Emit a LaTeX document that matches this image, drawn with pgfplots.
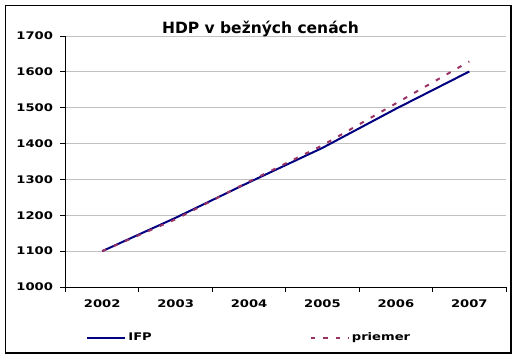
\documentclass[border=0pt]{standalone}
\usepackage{fontspec}
\setmainfont{DejaVu Sans}
\newfontfamily\wide{DejaVu Sans}[FakeStretch=1.25]
\usepackage{pgfplots}
\pgfplotsset{compat=1.18}
\definecolor{ifp}{RGB}{0,0,128}
\definecolor{prm}{RGB}{153,51,102}
\definecolor{grd}{RGB}{192,192,192}
\begin{document}
\begin{tikzpicture}[x=1pt,y=1pt]
\useasboundingbox (0,0) rectangle (521,359);
\fill[white] (0,0) rectangle (521,359);
\begin{axis}[
  at={(65.5pt,72pt)}, anchor=south west,
  scale only axis, width=440.5pt, height=251pt,
  xmin=0, xmax=6, ymin=1000, ymax=1700,
  ytick={1000,1100,...,1700},
  xtick={0,1,...,6},
  x tick label as interval,
  xticklabels={2002,2003,2004,2005,2006,2007},
  axis lines*=left,
  tick align=outside,
  major tick length=5pt,
  tick style={black, line width=1pt},
  axis line style={black, line width=1pt},
  ymajorgrids,
  grid style={grd, line width=1pt},
  /pgf/number format/assume math mode=true,
  /pgf/number format/1000 sep={},
  ticklabel style={font=\wide\bfseries\fontsize{10.5}{12}\selectfont},
  yticklabel style={xshift=-4pt},
  xticklabel style={yshift=-4pt},
  legend style={at={(0.047,-0.202)}, anchor=west, draw=none, fill=none,
    inner sep=0pt, font=\wide\bfseries\fontsize{10.5}{12}\selectfont},
  legend columns=2,
  legend image code/.code={\draw[#1] (0pt,0pt) -- (38pt,0pt);},
  legend cell align=left,
  /tikz/every even column/.append style={column sep=156pt},
]
\addplot[ifp, line width=2pt] coordinates {(0.5,1100)(1.5,1193)(2.5,1292)(3.5,1388)(4.5,1497)(5.5,1601)};
\addlegendentry{IFP}
\addplot[prm, line width=2pt, dash pattern=on 4.5pt off 8pt] coordinates {(0.5,1100)(1.5,1189)(2.5,1294)(3.5,1395)(4.5,1512)(5.5,1629)};
\addlegendentry{priemer}
\end{axis}
\node[anchor=base, font=\bfseries\fontsize{15.5}{18}\selectfont] at (260.5,325.7) {HDP v bežných cenách};
\draw[line width=1.2pt] (5.5,6) rectangle (511,353.5);
\end{tikzpicture}
\end{document}
